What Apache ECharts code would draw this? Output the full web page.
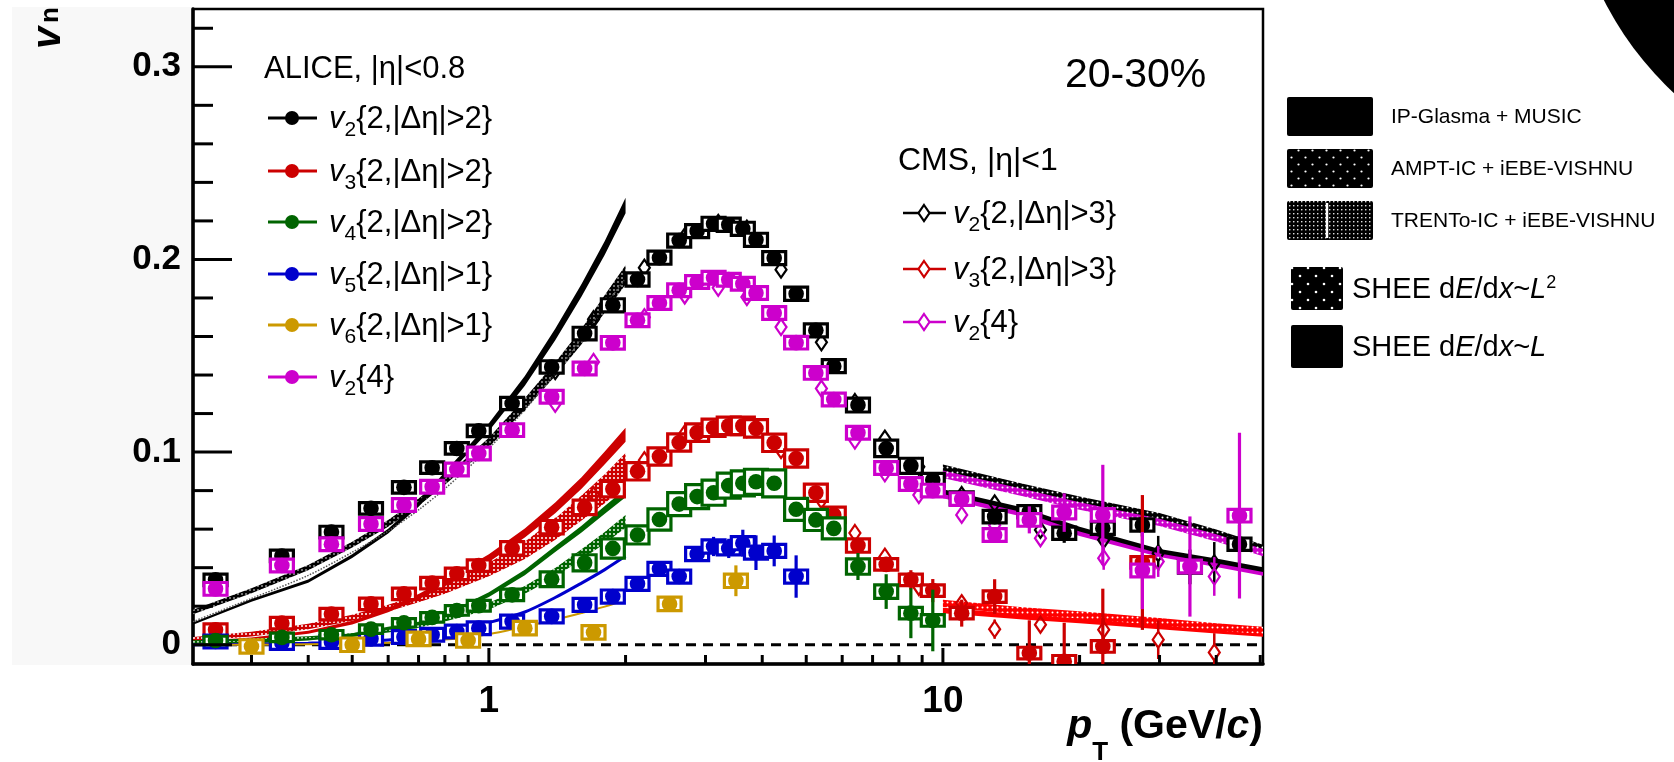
<!DOCTYPE html>
<html>
<head>
<meta charset="utf-8">
<script src="https://cdn.jsdelivr.net/npm/echarts@6.0.0/dist/echarts.min.js"></script>
<style>
html,body{margin:0;padding:0;background:#ffffff;}
#chart{width:1674px;height:762px;}
</style>
</head>
<body>
<div id="chart"></div>
<script>
// ---------------- axes ----------------
const X_MIN = 0.223, X_MAX = 50.7;
const Y_MIN = -0.01, Y_MAX = 0.33;
const xMajorTicks = [1, 10];
const xTickLabels = ['1', '10'];
const xMinorTicks = [0.3,0.4,0.5,0.6,0.7,0.8,0.9,2,3,4,5,6,7,8,9,20,30,40,50];
const yMajorTicks = [0, 0.1, 0.2, 0.3];
const yTickLabels = ['0', '0.1', '0.2', '0.3'];
const yMinorTicks = [0.02,0.04,0.06,0.08,0.12,0.14,0.16,0.18,0.22,0.24,0.26,0.28,0.32];
const xTitle = ['p', 'T', ' (GeV/', 'c', ')'];
const yTitle = ['v', 'n'];

// ---------------- legend texts ----------------
const aliceHeader = 'ALICE, |η|<0.8';
const aliceLegendSub = ['2','3','4','5','6','2'];
const aliceLegendRest = ['{2,|Δη|>2}','{2,|Δη|>2}','{2,|Δη|>2}','{2,|Δη|>1}','{2,|Δη|>1}','{4}'];
const cmsHeader = 'CMS, |η|<1';
const cmsLegendSub = ['2','3','2'];
const cmsLegendRest = ['{2,|Δη|>3}','{2,|Δη|>3}','{4}'];
const centralityText = '20-30%';
const modelNames = ['IP-Glasma + MUSIC','AMPT-IC + iEBE-VISHNU','TRENTo-IC + iEBE-VISHNU'];

// ---------------- ALICE data ----------------
const alicePt = [0.25,0.35,0.45,0.55,0.65,0.75,0.85,0.95,1.125,1.375,1.625,1.875,2.125,2.375,2.625,2.875,3.125,3.375,3.625,3.875,4.25,4.75,5.25,5.75,6.5,7.5,8.5,9.5,11,13,15.5,18.5,22.5,27.5,35,45];
const aliceV2 = [0.0337,0.0461,0.0585,0.0708,0.0817,0.0919,0.1019,0.111,0.1252,0.1442,0.1615,0.1762,0.1896,0.2009,0.2098,0.2147,0.2185,0.218,0.2159,0.2102,0.2007,0.1822,0.1632,0.1446,0.1244,0.1019,0.0929,0.0855,0.076,0.0665,0.069,0.0579,0.0605,0.0622,0.0404,0.0522];
const aliceV2Stat = [0,0,0,0,0,0,0,0,0,0,0,0,0,0,0,0,0,0,0,0,0,0,0,0,0.001,0.0015,0.002,0.002,0.003,0.003,0.004,0.005,0.005,0.006,0.009,0.01];
const aliceV2Sys = [0.003,0.003,0.003,0.003,0.003,0.003,0.003,0.003,0.0032,0.0032,0.0033,0.0034,0.0034,0.0034,0.0034,0.0034,0.0034,0.0034,0.0034,0.0034,0.0034,0.0034,0.0034,0.0034,0.0036,0.0043,0.0039,0.0035,0.0034,0.0032,0.0032,0.0032,0.0032,0.0032,0.0032,0.0032];

const aliceV24 = [0.029,0.0411,0.0522,0.0627,0.0725,0.082,0.091,0.0993,0.1114,0.1287,0.1434,0.1567,0.1684,0.1774,0.184,0.1883,0.1905,0.1895,0.1874,0.1826,0.1722,0.1568,0.1411,0.1273,0.110,0.0917,0.0834,0.080,0.0756,0.057,0.0648,0.0686,0.0674,0.0385,0.0406,0.067];
const aliceV24Stat = [0,0,0,0,0,0,0,0,0,0,0,0,0,0,0,0,0,0,0,0,0,0,0,0,0.001,0.0015,0.002,0.002,0.003,0.004,0.007,0.01,0.026,0.02,0.026,0.043];
const aliceV24Sys = [0.0033,0.0033,0.0033,0.0033,0.0033,0.0033,0.0033,0.0033,0.0033,0.0033,0.0033,0.0033,0.0033,0.0033,0.0033,0.0033,0.0033,0.0033,0.0033,0.0033,0.0033,0.0033,0.0033,0.0033,0.0033,0.0033,0.0033,0.0033,0.0033,0.0033,0.0033,0.0033,0.0033,0.0033,0.0033,0.0033];

const aliceV3Pt = [0.25,0.35,0.45,0.55,0.65,0.75,0.85,0.95,1.125,1.375,1.625,1.875,2.125,2.375,2.625,2.875,3.125,3.375,3.625,3.875,4.25,4.75,5.25,5.75,6.5,7.5,8.5,9.5,11,13,15.5,18.5,22.5,27.5];
const aliceV3 = [0.0078,0.0112,0.0159,0.0212,0.0264,0.032,0.0368,0.0411,0.050,0.061,0.0713,0.0808,0.090,0.0977,0.105,0.1101,0.1126,0.1136,0.1136,0.1123,0.1048,0.0967,0.0789,0.0674,0.0515,0.0417,0.0337,0.0281,0.0164,0.025,-0.0043,-0.0086,-0.0009,0.0427];
const aliceV3Stat = [0,0,0,0,0,0,0,0,0,0,0,0,0,0,0,0,0,0,0,0,0,0,0,0,0.001,0.003,0.005,0.006,0.007,0.009,0.017,0.02,0.03,0.035];
const aliceV3Sys = [0.003,0.003,0.003,0.003,0.003,0.003,0.003,0.003,0.0035,0.0035,0.0038,0.004,0.0045,0.0045,0.0045,0.0045,0.0045,0.0045,0.0045,0.0045,0.0045,0.0045,0.0045,0.004,0.0035,0.003,0.003,0.003,0.003,0.003,0.003,0.003,0.003,0.003];

const aliceV4Pt = [0.25,0.35,0.45,0.55,0.65,0.75,0.85,0.95,1.125,1.375,1.625,1.875,2.125,2.375,2.625,2.875,3.125,3.375,3.625,3.875,4.25,4.75,5.25,5.75,6.5,7.5,8.5,9.5];
const aliceV4 = [0.0022,0.0038,0.0052,0.0081,0.0114,0.0142,0.0178,0.0202,0.0259,0.034,0.0425,0.050,0.057,0.065,0.073,0.0769,0.0789,0.0826,0.0838,0.0846,0.0838,0.0703,0.0648,0.0604,0.0406,0.0276,0.0164,0.0126];
const aliceV4Stat = [0,0,0,0,0,0,0,0,0,0,0,0,0,0,0,0,0,0,0,0,0,0,0,0.003,0.007,0.009,0.013,0.016];
const aliceV4Sys = [0.0022,0.0022,0.0022,0.0022,0.0022,0.0025,0.0025,0.0028,0.003,0.0038,0.0042,0.005,0.0047,0.0055,0.006,0.0062,0.0065,0.0065,0.0065,0.0065,0.007,0.0057,0.0055,0.0054,0.004,0.0035,0.003,0.003];

const aliceV5Pt = [0.25,0.35,0.45,0.55,0.65,0.75,0.85,0.95,1.125,1.375,1.625,1.875,2.125,2.375,2.625,2.875,3.125,3.375,3.625,3.875,4.25,4.75];
const aliceV5 = [0.0017,0.0009,0.0014,0.0031,0.004,0.0052,0.0069,0.0086,0.012,0.0147,0.0207,0.025,0.0316,0.0394,0.0354,0.0471,0.051,0.050,0.0527,0.0478,0.0487,0.0354];
const aliceV5Stat = [0,0,0,0,0,0,0,0,0,0,0,0,0,0,0,0.003,0.005,0.005,0.007,0.009,0.008,0.011];
const aliceV5Sys = [0.0033,0.0033,0.0033,0.0033,0.0033,0.0033,0.0033,0.0033,0.0034,0.0034,0.0034,0.0034,0.0034,0.0034,0.0034,0.0034,0.0034,0.0034,0.0034,0.0034,0.0034,0.0034];

const aliceV6Pt = [0.3,0.5,0.7,0.9,1.2,1.7,2.5,3.5];
const aliceV6 = [-0.0009,0.0,0.003,0.0022,0.0086,0.0064,0.0212,0.0332];
const aliceV6Stat = [0,0,0,0,0,0,0.002,0.008];
const aliceV6Sys = [0.0035,0.0035,0.0035,0.0035,0.0035,0.0035,0.0035,0.0035];

// ---------------- CMS data ----------------
const cmsPt = [1.4,1.7,2.2,2.7,3.2,3.7,4.4,5.4,6.4,7.45,8.85,11,13,16.4,22.6,29.8,39.6];
const cmsV2 = [0.142,0.169,0.1957,0.212,0.219,0.216,0.1947,0.157,0.126,0.107,0.0924,0.0777,0.0734,0.0596,0.0544,0.0475,0.0423];
const cmsV2Err = [0,0,0,0,0,0,0,0,0,0,0.002,0.003,0.003,0.004,0.006,0.009,0.011];
const cmsV24 = [0.125,0.1468,0.170,0.1813,0.1853,0.1805,0.1649,0.133,0.106,0.089,0.0777,0.0674,0.062,0.0553,0.0449,0.0432,0.0354];
const cmsV24Err = [0,0,0,0,0,0,0,0,0,0,0.002,0.003,0.004,0.004,0.006,0.008,0.01];
const cmsV3 = [0.061,0.0777,0.0958,0.1097,0.113,0.112,0.101,0.075,0.058,0.0457,0.030,0.0216,0.0081,0.0104,0.0078,0.0026,-0.004];
const cmsV3Err = [0,0,0,0,0,0,0,0,0.002,0.002,0.003,0.004,0.005,0.004,0.006,0.01,0.01];

// ---------------- hydro models (pT < 2) ----------------
const hydroPt = [0.223,0.3,0.4,0.5,0.6,0.7,0.8,1.0,1.2,1.4,1.6,1.8,2.0];
const ipgV2 = [0.011,0.023,0.033,0.046,0.059,0.073,0.088,0.113,0.137,0.161,0.184,0.206,0.228];
const ipgV2W = [0.0006,0.0007,0.0008,0.001,0.0012,0.0014,0.0016,0.002,0.0025,0.003,0.0033,0.0036,0.004];
const amptV2 = [0.017,0.028,0.040,0.052,0.063,0.074,0.085,0.105,0.125,0.143,0.160,0.177,0.192];
const amptV2W = [0.0012,0.0013,0.0014,0.0015,0.0017,0.0019,0.002,0.0025,0.003,0.0035,0.004,0.0045,0.005];
const trentoV2 = [0.012,0.024,0.036,0.048,0.059,0.070,0.081,0.102,0.122,0.141,0.159,0.176,0.190];
const ipgV3 = [0.0012,0.003,0.0065,0.0115,0.018,0.025,0.032,0.045,0.058,0.071,0.084,0.097,0.109];
const ipgV3W = [0.0006,0.0007,0.0008,0.001,0.0012,0.0014,0.0016,0.002,0.0024,0.0028,0.003,0.0033,0.0036];
const amptV3 = [0.003,0.0055,0.0095,0.014,0.019,0.024,0.029,0.039,0.049,0.060,0.071,0.081,0.091];
const amptV3W = [0.001,0.0012,0.0014,0.0016,0.0018,0.002,0.0025,0.0035,0.0045,0.0055,0.0065,0.0075,0.0085];
const ipgV4 = [0.0005,0.0012,0.0028,0.0052,0.0085,0.011,0.015,0.026,0.0375,0.0497,0.060,0.070,0.0788];
const ipgV4W = [0.0005,0.0005,0.0006,0.0007,0.0008,0.0009,0.001,0.0012,0.0014,0.0016,0.0018,0.002,0.0022];
const amptV4 = [0.0015,0.0025,0.0035,0.005,0.0075,0.010,0.0135,0.020,0.0285,0.0375,0.047,0.0555,0.064];
const amptV4W = [0.0008,0.0008,0.0009,0.001,0.0011,0.0012,0.0014,0.0017,0.002,0.0023,0.0026,0.003,0.0033];
const ipgV5 = [0.0,0.0003,0.0008,0.0014,0.0025,0.004,0.006,0.0115,0.017,0.0245,0.032,0.039,0.046];
const ipgV6 = [0.0,0.0,0.0002,0.0005,0.001,0.0017,0.0027,0.0055,0.0095,0.013,0.0165,0.0198,0.0233];

// ---------------- SHEE models (pT > 10) ----------------
const sheePt = [10,15,20,30,40,50.7];
const sheeL2V2 = [0.0916,0.0817,0.0751,0.0665,0.0579,0.050];
const sheeL2V24 = [0.0885,0.079,0.072,0.0635,0.0555,0.0478];
const sheeLV2 = [0.0795,0.070,0.060,0.0485,0.0435,0.039];
const sheeLV24 = [0.0775,0.068,0.058,0.047,0.0418,0.0373];
const sheeL2V3 = [0.0215,0.0175,0.0155,0.012,0.0093,0.0075];
const sheeLV3 = [0.0178,0.0145,0.0125,0.0095,0.0072,0.0056];

// ---------------- styling ----------------
const FF = '"Liberation Sans", Arial, Helvetica, sans-serif';
const F = (s, w, st) => `${st || 'normal'} ${w || 'normal'} ${s}px ${FF}`;
const C_BLACK = '#000000', C_RED = '#cc0000', C_GREEN = '#006400', C_BLUE = '#0000cc',
      C_GOLD = '#cc9900', C_MAG = '#cc00cc', C_SHEE_RED = '#ff0000';

function dots(color, pitch, r, stagger) {
  const s = stagger ? pitch * 2 : pitch;
  const cv = document.createElement('canvas');
  cv.width = Math.round(s); cv.height = Math.round(s);
  const g = cv.getContext('2d');
  g.fillStyle = color; g.fillRect(0, 0, cv.width, cv.height);
  g.fillStyle = '#ffffff';
  const pts = stagger ? [[pitch/2, pitch/2], [pitch*1.5, pitch*1.5]] : [[pitch/2, pitch/2]];
  pts.forEach(([x, y]) => { g.beginPath(); g.arc(x, y, r, 0, Math.PI * 2); g.fill(); });
  return { image: cv, repeat: 'repeat' };
}

function bandSeries(pts, mid, half, fill, z) {
  return {
    type: 'custom', coordinateSystem: 'cartesian2d', clip: true, silent: true, z: z,
    data: [[pts[0], mid[0]]],
    renderItem: function (params, api) {
      const hw = i => Array.isArray(half) ? half[i] : half;
      const up = pts.map((p, i) => api.coord([p, mid[i] + hw(i)]));
      const lo = pts.map((p, i) => api.coord([p, mid[i] - hw(i)])).reverse();
      return { type: 'polygon', shape: { points: up.concat(lo) }, style: { fill: fill } };
    }
  };
}

function curveSeries(pts, vals, color, width, type, z) {
  return {
    type: 'line', data: pts.map((p, i) => [p, vals[i]]), showSymbol: false, symbol: 'none',
    smooth: 0.3, silent: true, z: z, clip: true,
    lineStyle: { color: color, width: width, type: type || 'solid' }
  };
}

function aliceSeries(color, pts, vals, stat, sys, z) {
  return {
    type: 'custom', coordinateSystem: 'cartesian2d', clip: true, silent: true, z: z,
    data: pts.map((p, i) => [p, vals[i], stat[i], sys[i]]),
    renderItem: function (params, api) {
      const p = api.value(0), v = api.value(1), e = api.value(2), s = api.value(3);
      const c = api.coord([p, v]);
      const kids = [];
      if (e > 0) {
        const t = api.coord([p, v + e])[1], b = api.coord([p, v - e])[1];
        kids.push({ type: 'line', shape: { x1: c[0], y1: t, x2: c[0], y2: b }, style: { stroke: color, lineWidth: 3.2 } });
      }
      const st = api.coord([p, v + s])[1], sb = api.coord([p, v - s])[1];
      kids.push({ type: 'rect', shape: { x: c[0] - 11.5, y: st, width: 23, height: sb - st }, style: { fill: '#ffffff', stroke: color, lineWidth: 3.2 } });
      kids.push({ type: 'circle', shape: { cx: c[0], cy: c[1], r: 7.8 }, style: { fill: color } });
      return { type: 'group', children: kids };
    }
  };
}

function cmsSeries(color, pts, vals, err, z) {
  return {
    type: 'custom', coordinateSystem: 'cartesian2d', clip: true, silent: true, z: z,
    data: pts.map((p, i) => [p, vals[i], err[i]]),
    renderItem: function (params, api) {
      const p = api.value(0), v = api.value(1), e = api.value(2);
      const c = api.coord([p, v]);
      const hw = 5.5, hh = 8;
      const kids = [];
      if (e > 0) {
        const t = api.coord([p, v + e])[1], b = api.coord([p, v - e])[1];
        if (t < c[1] - hh) kids.push({ type: 'line', shape: { x1: c[0], y1: t, x2: c[0], y2: c[1] - hh }, style: { stroke: color, lineWidth: 2.5 } });
        if (b > c[1] + hh) kids.push({ type: 'line', shape: { x1: c[0], y1: c[1] + hh, x2: c[0], y2: b }, style: { stroke: color, lineWidth: 2.5 } });
      }
      kids.push({ type: 'polygon', shape: { points: [[c[0], c[1] - hh], [c[0] + hw, c[1]], [c[0], c[1] + hh], [c[0] - hw, c[1]]] },
        style: { fill: 'none', stroke: color, lineWidth: 2.2 } });
      return { type: 'group', children: kids };
    }
  };
}

function tickSeries(vals, len, axis) {
  return {
    type: 'custom', coordinateSystem: 'cartesian2d', clip: false, silent: true, z: 10,
    data: vals.map(v => axis === 'x' ? [v, Y_MIN] : [X_MIN, v]),
    renderItem: function (params, api) {
      const p = api.coord([api.value(0), api.value(1)]);
      const shape = axis === 'x'
        ? { x1: p[0], y1: p[1], x2: p[0], y2: p[1] - len }
        : { x1: p[0], y1: p[1], x2: p[0] + len, y2: p[1] };
      return { type: 'line', shape: shape, style: { stroke: '#000', lineWidth: 3 } };
    }
  };
}

function labelSeries(vals, labels, axis) {
  return {
    type: 'custom', coordinateSystem: 'cartesian2d', clip: false, silent: true, z: 10,
    data: vals.map(v => axis === 'x' ? [v, Y_MIN] : [X_MIN, v]),
    renderItem: function (params, api) {
      const p = api.coord([api.value(0), api.value(1)]);
      const txt = labels[params.dataIndex];
      if (axis === 'x') {
        return { type: 'text', x: p[0], y: p[1] + 38, style: { text: txt, font: F(37, 'bold'), fill: '#000', align: 'center', verticalAlign: 'middle' } };
      }
      return { type: 'text', x: p[0] - 12, y: p[1], style: { text: txt, font: F(35, 'bold'), fill: '#000', align: 'right', verticalAlign: 'middle' } };
    }
  };
}

// patterns
const patAmptBlack = dots(C_BLACK, 4, 0.8, false);
const patAmptRed = dots(C_RED, 4, 1.0, false);
const patAmptGreen = dots(C_GREEN, 4, 0.9, false);
const patSheeBlack = dots(C_BLACK, 5, 1.0, false);
const patSheeMag = dots(C_MAG, 5, 1.0, false);
const patSheeRed = dots(C_SHEE_RED, 5, 1.0, false);
const patLeg2 = dots(C_BLACK, 7, 1.1, true);
const patLeg3 = dots(C_BLACK, 3.5, 0.8, false);
const patLeg4 = dots(C_BLACK, 8, 1.3, true);

const series = [
  // zero line
  { type: 'line', data: [[X_MIN, 0], [X_MAX, 0]], showSymbol: false, symbol: 'none', silent: true, z: 1,
    lineStyle: { color: '#000', width: 3, type: [10, 7] } },
  // hydro
  bandSeries(hydroPt, amptV2, amptV2W, patAmptBlack, 2),
  curveSeries(hydroPt, trentoV2, '#555555', 1.5, 'dotted', 2),
  bandSeries(hydroPt, ipgV2, ipgV2W, C_BLACK, 2),
  bandSeries(hydroPt, amptV3, amptV3W, patAmptRed, 2),
  bandSeries(hydroPt, ipgV3, ipgV3W, C_RED, 2),
  bandSeries(hydroPt, amptV4, amptV4W, patAmptGreen, 2),
  bandSeries(hydroPt, ipgV4, ipgV4W, C_GREEN, 2),
  curveSeries(hydroPt, ipgV5, C_BLUE, 3, 'solid', 2),
  curveSeries(hydroPt, ipgV6, C_GOLD, 2, 'solid', 2),
  // SHEE
  bandSeries(sheePt, sheeL2V2, 0.0019, patSheeBlack, 2),
  bandSeries(sheePt, sheeL2V24, 0.0019, patSheeMag, 2),
  bandSeries(sheePt, sheeLV24, 0.0015, C_MAG, 2),
  bandSeries(sheePt, sheeLV2, 0.0012, C_BLACK, 2),
  bandSeries(sheePt, sheeLV3, 0.0014, C_SHEE_RED, 2),
  bandSeries(sheePt, sheeL2V3, 0.0019, patSheeRed, 2),
  // CMS
  cmsSeries(C_BLACK, cmsPt, cmsV2, cmsV2Err, 3),
  cmsSeries(C_MAG, cmsPt, cmsV24, cmsV24Err, 3),
  cmsSeries(C_RED, cmsPt, cmsV3, cmsV3Err, 3),
  // ALICE
  aliceSeries(C_BLACK, alicePt, aliceV2, aliceV2Stat, aliceV2Sys, 4),
  aliceSeries(C_RED, aliceV3Pt, aliceV3, aliceV3Stat, aliceV3Sys, 4),
  aliceSeries(C_BLUE, aliceV5Pt, aliceV5, aliceV5Stat, aliceV5Sys, 4),
  aliceSeries(C_GREEN, aliceV4Pt, aliceV4, aliceV4Stat, aliceV4Sys, 4),
  aliceSeries(C_GOLD, aliceV6Pt, aliceV6, aliceV6Stat, aliceV6Sys, 4),
  aliceSeries(C_MAG, alicePt, aliceV24, aliceV24Stat, aliceV24Sys, 4),
  // ticks and labels
  tickSeries(xMinorTicks, 9, 'x'),
  tickSeries(xMajorTicks, 16, 'x'),
  tickSeries(yMinorTicks, 20, 'y'),
  tickSeries(yMajorTicks, 39, 'y'),
  labelSeries(xMajorTicks, xTickLabels, 'x'),
  labelSeries(yMajorTicks, yTickLabels, 'y')
];

// ---------------- graphic (legends, titles) ----------------
const g = [];
g.push({ type: 'rect', z: 0, shape: { x: 12, y: 7, width: 179, height: 658 }, style: { fill: '#f8f8f8' } });
g.push({ type: 'circle', z: 0, shape: { cx: 1900, cy: -150, r: 332 }, style: { fill: '#000' } });

function legendText(x, y, sub, rest) {
  return { type: 'text', z: 20, x: x, y: y, style: {
    text: `{v|v}{s|${sub}}{t|${rest}}`, font: F(31), fill: '#000', align: 'left', verticalAlign: 'middle',
    rich: {
      v: { font: F(31, 'normal', 'italic'), lineHeight: 44 },
      s: { font: F(21), lineHeight: 20, verticalAlign: 'bottom' },
      t: { font: F(31), lineHeight: 44 }
    } } };
}

const aliceColors = [C_BLACK, C_RED, C_GREEN, C_BLUE, C_GOLD, C_MAG];
const aliceRowY = [118, 171, 222, 274, 325, 377];
g.push({ type: 'text', z: 20, x: 264, y: 69, style: { text: aliceHeader, font: F(31), fill: '#000', align: 'left', verticalAlign: 'middle' } });
aliceColors.forEach((c, i) => {
  const y = aliceRowY[i];
  g.push({ type: 'line', z: 20, shape: { x1: 268, y1: y, x2: 317, y2: y }, style: { stroke: c, lineWidth: 3 } });
  g.push({ type: 'circle', z: 20, shape: { cx: 292, cy: y, r: 7 }, style: { fill: c } });
  g.push(legendText(329, y + 1, aliceLegendSub[i], aliceLegendRest[i]));
});

const cmsColors = [C_BLACK, C_RED, C_MAG];
const cmsRowY = [213, 269, 322];
g.push({ type: 'text', z: 20, x: 898, y: 161, style: { text: cmsHeader, font: F(32), fill: '#000', align: 'left', verticalAlign: 'middle' } });
cmsColors.forEach((c, i) => {
  const y = cmsRowY[i];
  g.push({ type: 'line', z: 20, shape: { x1: 903, y1: y, x2: 946, y2: y }, style: { stroke: c, lineWidth: 2.5 } });
  g.push({ type: 'polygon', z: 21, shape: { points: [[924, y - 8], [929.5, y], [924, y + 8], [918.5, y]] }, style: { fill: '#fff', stroke: c, lineWidth: 2.2 } });
  g.push(legendText(953, y + 1, cmsLegendSub[i], cmsLegendRest[i]));
});

g.push({ type: 'text', z: 20, x: 1065, y: 76, style: { text: centralityText, font: F(41), fill: '#000', align: 'left', verticalAlign: 'middle' } });

// model legend
g.push({ type: 'rect', z: 20, shape: { x: 1287, y: 97, width: 86, height: 39, r: 2 }, style: { fill: '#000' } });
g.push({ type: 'rect', z: 20, shape: { x: 1287, y: 149, width: 86, height: 39, r: 2 }, style: { fill: patLeg2 } });
g.push({ type: 'rect', z: 20, shape: { x: 1287, y: 201, width: 86, height: 39, r: 2 }, style: { fill: patLeg3 } });
g.push({ type: 'line', z: 21, shape: { x1: 1327, y1: 203, x2: 1327, y2: 238 }, style: { stroke: '#fff', lineWidth: 2.5 } });
[117, 169, 221].forEach((y, i) => {
  g.push({ type: 'text', z: 20, x: 1391, y: y, style: { text: modelNames[i], font: F(21), fill: '#000', align: 'left', verticalAlign: 'middle' } });
});
g.push({ type: 'rect', z: 20, shape: { x: 1291, y: 267, width: 52, height: 43, r: 2 }, style: { fill: patLeg4 } });
g.push({ type: 'rect', z: 20, shape: { x: 1291, y: 325, width: 52, height: 43, r: 2 }, style: { fill: '#000' } });
const sheeRich = {
  r: { font: F(29), lineHeight: 32 },
  i: { font: F(29, 'normal', 'italic'), lineHeight: 32 },
  u: { font: F(18), lineHeight: 16, verticalAlign: 'top' }
};
g.push({ type: 'text', z: 20, x: 1352, y: 290, style: { text: '{r|SHEE d}{i|E}{r|/d}{i|x}{r|~}{i|L}{u|2}', font: F(29), fill: '#000', align: 'left', verticalAlign: 'middle', rich: sheeRich } });
g.push({ type: 'text', z: 20, x: 1352, y: 348, style: { text: '{r|SHEE d}{i|E}{r|/d}{i|x}{r|~}{i|L}', font: F(29), fill: '#000', align: 'left', verticalAlign: 'middle', rich: sheeRich } });

// axis titles
g.push({ type: 'text', z: 20, x: 1263, y: 727, style: {
  text: `{p|${xTitle[0]}}{t|${xTitle[1]}}{r|${xTitle[2]}}{c|${xTitle[3]}}{r|${xTitle[4]}}`,
  font: F(41, 'bold'), fill: '#000', align: 'right', verticalAlign: 'middle',
  rich: {
    p: { font: F(41, 'bold', 'italic'), lineHeight: 78 },
    t: { font: F(26, 'bold'), lineHeight: 26, verticalAlign: 'bottom' },
    r: { font: F(41, 'bold'), lineHeight: 78 },
    c: { font: F(41, 'bold', 'italic'), lineHeight: 78 }
  } } });
g.push({ type: 'text', z: 20, x: 49, y: 38, rotation: Math.PI / 2, style: { text: yTitle[0], font: F(40, 'bold', 'italic'), fill: '#000', align: 'center', verticalAlign: 'middle' } });
g.push({ type: 'text', z: 20, x: 51, y: 15, rotation: Math.PI / 2, style: { text: yTitle[1], font: F(26, 'bold'), fill: '#000', align: 'center', verticalAlign: 'middle' } });

const option = {
  animation: false,
  backgroundColor: '#ffffff',
  grid: { left: 193, top: 9, width: 1070, height: 655, show: true, borderColor: '#000', borderWidth: 2.5, backgroundColor: '#ffffff' },
  xAxis: { type: 'log', logBase: 10, min: X_MIN, max: X_MAX,
    axisLine: { show: true, onZero: false, lineStyle: { color: '#000', width: 3.5 } },
    axisTick: { show: false }, axisLabel: { show: false }, splitLine: { show: false } },
  yAxis: { type: 'value', min: Y_MIN, max: Y_MAX,
    axisLine: { show: true, onZero: false, lineStyle: { color: '#000', width: 3.5 } },
    axisTick: { show: false }, axisLabel: { show: false }, splitLine: { show: false } },
  series: series,
  graphic: { elements: g }
};

const chart = echarts.init(document.getElementById('chart'), null, { renderer: 'canvas' });
chart.setOption(option);
</script>
</body>
</html>
